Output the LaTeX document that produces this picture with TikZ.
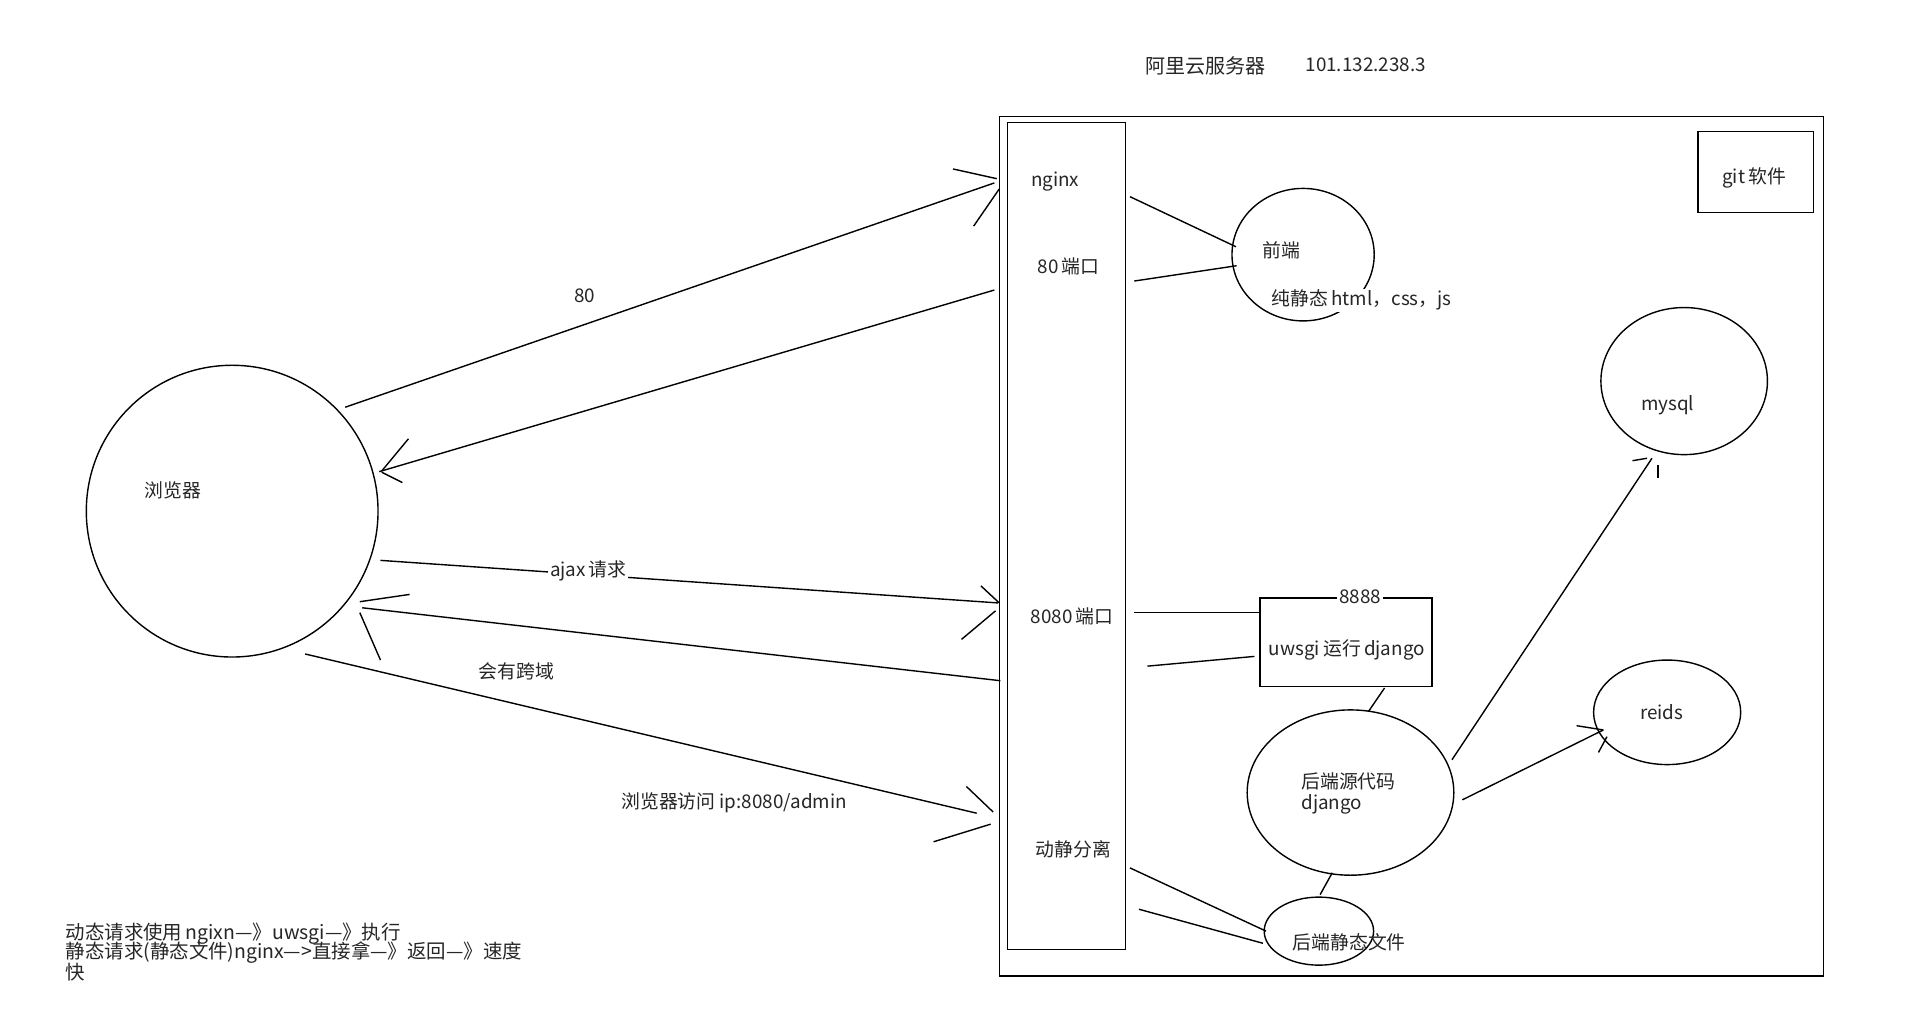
\documentclass[tikz,border=0pt]{standalone}
\usepackage{fontspec}
\setmainfont{Noto Sans CJK SC}
\usetikzlibrary{shapes.geometric}
\begin{document}
\begin{tikzpicture}[x=1pt,y=-1pt,line width=1.15pt,
  txt/.style={font=\fontsize{15.5}{17}\selectfont,inner sep=0pt,text=black!85},
  wtxt/.style={txt,fill=white,inner xsep=1.5pt,inner ysep=1pt},
  ell/.style={draw,ellipse,inner sep=0pt},
  boxr/.style={draw,rectangle,inner sep=0pt}]
\fill[white] (0,0) rectangle (1568,848);
\useasboundingbox (0,0) rectangle (1568,848);

% title
\node[txt,font=\fontsize{16.5}{18}\selectfont] (title) at (991.5,54) {阿里云服务器};
\node[txt,font=\fontsize{15.5}{17}\selectfont] (ip) at (1123.5,53) {101.132.238.3};

% server frame and nginx column
\node[boxr,minimum width=678,minimum height=707] (server) at (1161,449.5) {};
\node[boxr,minimum width=97,minimum height=680] (nginxcol) at (877.5,441) {};
\node[txt] (nginx) at (868,149) {nginx};
\node[txt] (p80) at (879,219) {80\,端口};
\node[txt] (p8080) at (882,507) {8080\,端口};
\node[txt] (dj) at (883,699) {动静分离};

% front end
\node[ell,minimum width=117,minimum height=109] (front) at (1072,209.5) {};
\node[txt] (frontt) at (1054,206) {前端};

% git
\node[boxr,minimum width=95,minimum height=67] (git) at (1444.5,141.5) {};
\node[txt] (gitt) at (1443,146) {git\,软件};

% mysql, reids
\node[ell,minimum width=137,minimum height=121] (mysql) at (1385.5,313.5) {};
\node[txt] (mysqlt) at (1372,333) {mysql};
\node[ell,minimum width=121,minimum height=86] (reids) at (1371.5,586) {};
\node[txt] (reidst) at (1367,586) {reids};

% uwsgi
\node[boxr,minimum width=141.5,minimum height=73] (uwsgi) at (1107.25,528.5) {};
\node[txt] (uwsgit) at (1108,535) {uwsgi\,运行\,django};

% django
\node[ell,minimum width=170,minimum height=136] (django) at (1111,652) {};
\node[txt,anchor=west] (djt1) at (1070,643) {后端源代码};
\node[txt,anchor=west] (djt2) at (1070,662) {django};

% static
\node[ell,minimum width=90,minimum height=56] (static) at (1085,766) {};

% browser
\node[draw,circle,minimum size=240,inner sep=0pt] (browser) at (191,420.5) {};
\node[txt] (browsert) at (142,403) {浏览器};

% coordinates for hand-drawn connectors
\coordinate (a1s) at (284,335);   \coordinate (a1e) at (818,150.5);
\coordinate (a1h1) at (784,139);  \coordinate (a1t1) at (820,147);
\coordinate (a1h2) at (801,186);  \coordinate (a1t2) at (822,155.5);

\coordinate (a2s) at (818,238.6); \coordinate (a2e) at (312,388);
\coordinate (a2h1) at (336,361);  \coordinate (a2t1) at (314,387.5);
\coordinate (a2h2) at (331,397);  \coordinate (a2t2) at (314,388.5);

\coordinate (a3s) at (313,461);   \coordinate (a3e) at (821,496);
\coordinate (a3h1) at (807,482);  \coordinate (a3t1) at (822,496);
\coordinate (a3h2) at (791,526);  \coordinate (a3t2) at (819,502.5);

\coordinate (a4s) at (823,560);   \coordinate (a4e) at (298,500);
\coordinate (a4h1) at (337,489);  \coordinate (a4t1) at (296,495);
\coordinate (a4h2) at (313,543);  \coordinate (a4t2) at (296,504);

\coordinate (a5s) at (251,538);   \coordinate (a5e) at (803.5,669);
\coordinate (a5h1) at (795,647);  \coordinate (a5t1) at (817,668);
\coordinate (a5h2) at (768,692.5);\coordinate (a5t2) at (815,678);

\coordinate (f1s) at (929.6,161.8); \coordinate (f1e) at (1016.8,203);
\coordinate (f2s) at (933.1,231.2); \coordinate (f2e) at (1017.3,218.6);

\coordinate (u1s) at (933,504);   \coordinate (u1e) at (1036.5,504);
\coordinate (u2s) at (944,548);   \coordinate (u2e) at (1032,540);
\coordinate (ud1) at (1139,566);  \coordinate (ud2) at (1126,585);
\coordinate (ds1) at (1096,718);  \coordinate (ds2) at (1086,736);
\coordinate (s1s) at (929.6,714); \coordinate (s1e) at (1041.5,766);
\coordinate (s2s) at (937,748);   \coordinate (s2e) at (1039,776);

\coordinate (m1s) at (1194.5,625); \coordinate (m1e) at (1359,377);
\coordinate (m1h1) at (1343,379);  \coordinate (m1t1) at (1355,377);
\coordinate (m1h2) at (1364,382.5);\coordinate (m1t2) at (1364,393);

\coordinate (r1s) at (1203,658);   \coordinate (r1e) at (1319,600.5);
\coordinate (r1h1) at (1297,597);  \coordinate (r1t1) at (1319,600.5);
\coordinate (r1h2) at (1315,619);  \coordinate (r1t2) at (1322,606);

% connectors
\draw (a1s) -- (a1e); \draw (a1h1) -- (a1t1); \draw (a1h2) -- (a1t2);
\draw (a2s) -- (a2e); \draw (a2h1) -- (a2t1); \draw (a2h2) -- (a2t2);
\draw (a3s) -- (a3e); \draw (a3h1) -- (a3t1); \draw (a3h2) -- (a3t2);
\draw (a4s) -- (a4e); \draw (a4h1) -- (a4t1); \draw (a4h2) -- (a4t2);
\draw (a5s) -- (a5e); \draw (a5h1) -- (a5t1); \draw (a5h2) -- (a5t2);
\draw (f1s) -- (f1e); \draw (f2s) -- (f2e);
\draw (u1s) -- (u1e); \draw (u2s) -- (u2e);
\draw (ud1) -- (ud2); \draw (ds1) -- (ds2);
\draw (s1s) -- (s1e); \draw (s2s) -- (s2e);
\draw (m1s) -- (m1e); \draw (m1h1) -- (m1t1); \draw (m1h2) -- (m1t2);
\draw (r1s) -- (r1e); \draw (r1h1) -- (r1t1); \draw (r1h2) -- (r1t2);

% labels (white-backed ones cover lines)
\node[wtxt,anchor=west] (fronts) at (1044,247) {纯静态\,html，css，js};
\node[wtxt,inner ysep=0pt] (p8888) at (1119,491) {8888};
\node[wtxt] (ajax) at (484,470) {ajax\,请求};
\node[txt] (l80) at (481,243) {80};
\node[txt] (cross) at (425,552) {会有跨域};
\node[txt] (admin) at (604,660) {浏览器访问 ip:8080/admin};
\node[txt] (statict) at (1110,775) {后端静态文件};

% note
\node[txt,anchor=west,font=\fontsize{16}{17}\selectfont] (note1) at (53.5,768) {动态请求使用\,ngixn—》uwsgi—》执行};
\node[txt,anchor=west,font=\fontsize{16}{17}\selectfont] (note2) at (53.5,784) {静态请求(静态文件)nginx—>直接拿—》返回—》速度};
\node[txt,anchor=west,font=\fontsize{16}{17}\selectfont] (note3) at (53.5,800) {快};
\end{tikzpicture}
\end{document}
